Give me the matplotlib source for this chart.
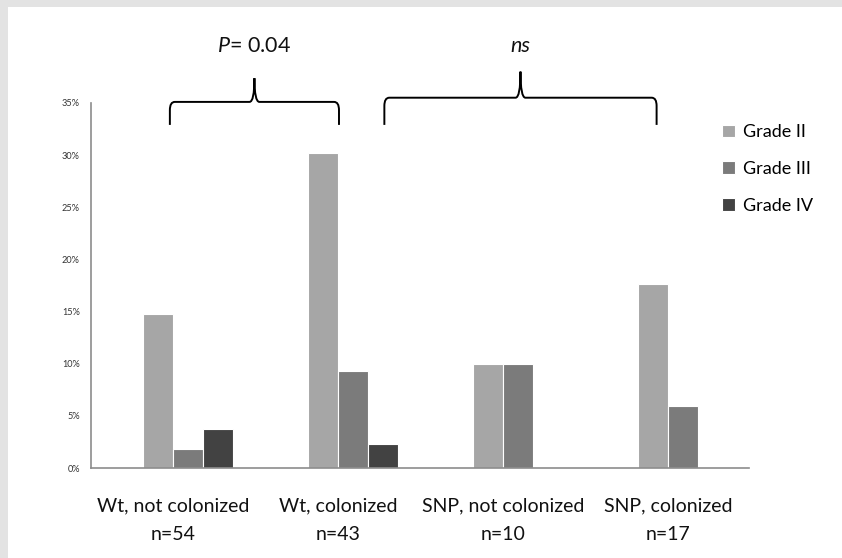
import matplotlib
matplotlib.use("Agg")
import matplotlib.pyplot as plt
import matplotlib.transforms as mtransforms
from matplotlib.patches import Rectangle
from matplotlib.path import Path
from matplotlib.patches import PathPatch
import numpy as np

plt.rcParams['font.family'] = ['Lato', 'DejaVu Sans']
plt.rcParams['mathtext.fontset'] = 'custom'
plt.rcParams['mathtext.rm'] = 'Lato'
plt.rcParams['mathtext.it'] = 'Lato:italic'

categories = ["Wt, not colonized", "Wt, colonized", "SNP, not colonized", "SNP, colonized"]
n_labels = ["n=54", "n=43", "n=10", "n=17"]
series_names = ["Grade II", "Grade III", "Grade IV"]
grade2 = [14.8, 30.2, 10.0, 17.6]
grade3 = [1.85, 9.3, 10.0, 5.9]
grade4 = [3.7, 2.3, 0.0, 0.0]
yticks = [0, 5, 10, 15, 20, 25, 30, 35]
brace_spans = [(-0.11, 0.915), (1.19, 2.84)]
brace_labels = [r"$P$= 0.04", "ns"]

colors = ["#a6a6a6", "#7b7b7b", "#424242"]

W, H = 842, 558
fig = plt.figure(figsize=(W / 100, H / 100), dpi=100)
fig.patch.set_facecolor("#e3e3e3")
bg = Rectangle((8 / W, 0), 1 - 8 / W, 1 - 7 / H, transform=fig.transFigure,
               facecolor="white", edgecolor="none", zorder=-10)
fig.add_artist(bg)

ax = fig.add_axes([91 / W, 1 - 468 / H, (749 - 91) / W, (468 - 103) / H])
ax.set_facecolor("none")
ax.set_zorder(1)

x = np.arange(len(categories))
step = 30 / 165
width = step
for k, vals in enumerate([grade2, grade3, grade4]):
    vals = np.array(vals)
    mask = vals > 0
    ax.bar(x[mask] + (k - 1) * step, vals[mask], width=width, color=colors[k],
           edgecolor="white", linewidth=0.8, label=series_names[k], zorder=2)

ax.set_xlim(-0.588, 3.4)
ax.set_ylim(0, 35)
ax.set_yticks(yticks)
ax.set_yticklabels([f"{v}%" for v in yticks], fontsize=6.6, color="#333333")
ax.tick_params(axis="y", length=0, pad=8)
ax.set_xticks([])
for s in ["top", "right"]:
    ax.spines[s].set_visible(False)
for s in ["left", "bottom"]:
    ax.spines[s].set_color("#8c8c8c")
    ax.spines[s].set_linewidth(1.2)

# category labels
tr = mtransforms.blended_transform_factory(ax.transData, fig.transFigure)
for i, (c, n) in enumerate(zip(categories, n_labels)):
    ax.text(i - 0.09, 1 - 506 / H, c, transform=tr, ha="center", va="center",
            fontsize=14, color="#111111")
    ax.text(i - 0.09, 1 - 535 / H, n, transform=tr, ha="center", va="center",
            fontsize=14, color="#111111")

# braces
trb = mtransforms.blended_transform_factory(ax.transData, ax.transAxes)
brace_geo = [(0.94, 1.003, 1.068), (0.94, 1.0145, 1.086)]
for (x0, x1), (yb, yh, yt), lab in zip(brace_spans, brace_geo, brace_labels):
    xm = (x0 + x1) / 2
    r = 0.03
    ry = 0.015
    verts = [(x0, yb), (x0, yh - ry * 1.5), (x0, yh), (x0 + r, yh),
             (xm - r, yh), (xm, yh), (xm, yt),
             (xm, yh), (xm + r, yh),
             (x1 - r, yh), (x1, yh), (x1, yh - ry * 1.5), (x1, yb)]
    codes = [Path.MOVETO, Path.LINETO, Path.CURVE3, Path.CURVE3,
             Path.LINETO, Path.CURVE3, Path.CURVE3,
             Path.CURVE3, Path.CURVE3,
             Path.LINETO, Path.CURVE3, Path.CURVE3, Path.LINETO]
    pp = PathPatch(Path(verts, codes), transform=trb, facecolor="none",
                   edgecolor="black", linewidth=1.4, clip_on=False)
    ax.add_patch(pp)
    style = "italic" if lab == "ns" else "normal"
    ax.text(xm, 1 - 46 / H, lab, transform=tr,
            ha="center", va="center", fontsize=15.5, fontstyle=style, color="#111111")

# legend
leg = fig.legend(loc="upper left", bbox_to_anchor=(715 / W, 1 - 117 / H), frameon=False,
                 fontsize=13, handlelength=0.7, handleheight=0.7, handletextpad=0.45,
                 labelspacing=1.15, borderaxespad=0)

fig.savefig("out.png", dpi=100)
